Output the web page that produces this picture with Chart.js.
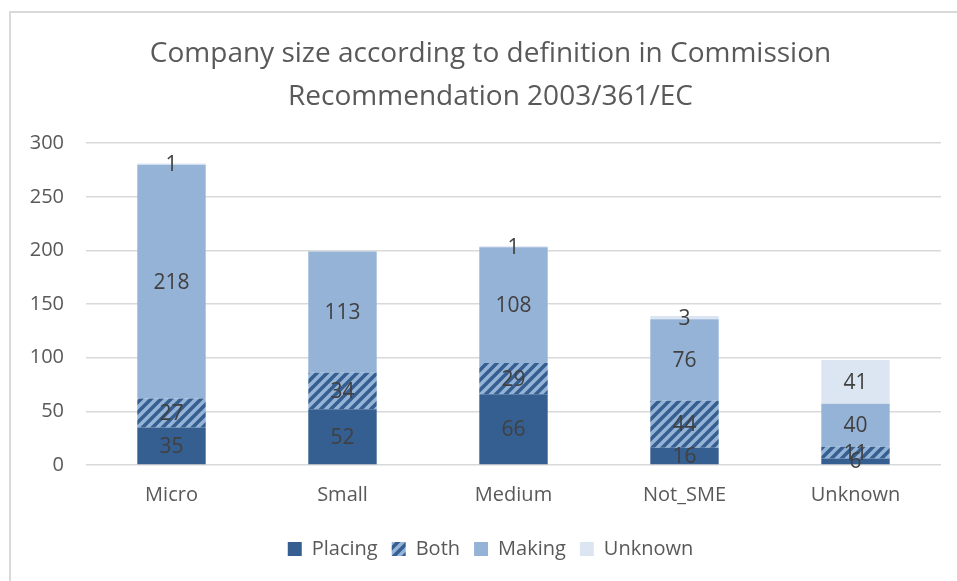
<!DOCTYPE html>
<html>
<head>
<meta charset="utf-8">
<script src="https://cdn.jsdelivr.net/npm/chart.js@4.4.1/dist/chart.umd.min.js"></script>
<style>
  body { margin: 0; background: #fff; }
  #wrap { width: 957px; height: 581px; position: relative; }
</style>
</head>
<body>
<div id="wrap"><canvas id="chart" width="957" height="581"></canvas></div>
<script>
// values
var categories = ["Micro", "Small", "Medium", "Not_SME", "Unknown"]
var placing = [35, 52, 66, 16, 6]
var both = [27, 34, 29, 44, 11]
var making = [218, 113, 108, 76, 40]
var unknown = [1, 0, 1, 3, 41]
var yTicks = [0, 50, 100, 150, 200, 250, 300]

var FONT = "'Open Sans'"
var dark = "#355f91"
var mid = "#95b3d7"
var light = "#dce6f2"

function MakeHatch(){
    var c = document.createElement("canvas")
    c.width = 10
    c.height = 10
    var g = c.getContext("2d")
    g.fillStyle = mid
    g.fillRect(0, 0, 10, 10)
    g.strokeStyle = dark
    g.lineWidth = 3.5
    g.beginPath()
    g.moveTo(-2, 12); g.lineTo(12, -2)
    g.moveTo(-7, 7); g.lineTo(7, -7)
    g.moveTo(3, 17); g.lineTo(17, 3)
    g.stroke()
    return g.createPattern(c, "repeat")
}
var hatch = MakeHatch()

// value labels in the middle of every segment
var valueLabels = {
    id: "valueLabels",
    afterDatasetsDraw: function(chart){
        var ctx = chart.ctx
        ctx.save()
        ctx.font = "21px " + FONT
        ctx.fillStyle = "#404040"
        ctx.textAlign = "center"
        ctx.textBaseline = "middle"
        chart.data.datasets.forEach(function(ds, i){
            var meta = chart.getDatasetMeta(i)
            meta.data.forEach(function(bar, j){
                var v = ds.data[j]
                if(!v) return
                ctx.fillText(String(v), bar.x, (bar.y + bar.base) / 2 + 1)
            })
        })
        ctx.restore()
    }
}

// the light frame round the chart, and title + legend centred on that frame
var frame = {
    id: "frame",
    afterLayout: function(chart){
        var shift = 20
        if(chart.titleBlock){ chart.titleBlock.left += shift; chart.titleBlock.right += shift }
        if(chart.legend){ chart.legend.left += shift; chart.legend.right += shift }
    },
    beforeDraw: function(chart){
        var ctx = chart.ctx
        ctx.save()
        ctx.strokeStyle = "#d9d9d9"
        ctx.lineWidth = 2
        ctx.beginPath()
        ctx.moveTo(10, 600); ctx.lineTo(10, 12); ctx.lineTo(960, 12)
        ctx.stroke()
        ctx.restore()
    }
}

var ctx = document.getElementById("chart")

var chart = new Chart(ctx, {
    type: "bar",
    data: {
        labels: categories,
        datasets: [
            { label: "Placing", data: placing, backgroundColor: dark },
            { label: "Both", data: both, backgroundColor: hatch },
            { label: "Making", data: making, backgroundColor: mid },
            { label: "Unknown", data: unknown, backgroundColor: light }
        ]
    },
    options: {
        responsive: false,
        animation: false,
        layout: { padding: { left: 0, right: 16, top: 0, bottom: 12 } },
        datasets: {
            bar: { barPercentage: 0.4, categoryPercentage: 1.0, borderWidth: 0 }
        },
        plugins: {
            title: {
                display: true,
                text: ["Company size according to definition in Commission", "Recommendation 2003/361/EC"],
                color: "#595959",
                font: { family: FONT, size: 28, weight: "normal", lineHeight: 1.54 },
                padding: { top: 32, bottom: 25 }
            },
            legend: {
                position: "bottom",
                labels: {
                    color: "#595959",
                    font: { family: FONT, size: 20 },
                    boxWidth: 14,
                    boxHeight: 14,
                    padding: 14
                }
            },
            tooltip: { enabled: false }
        },
        scales: {
            x: {
                stacked: true,
                grid: { display: false, drawTicks: false },
                border: { display: false },
                ticks: { color: "#595959", font: { family: FONT, size: 20 }, padding: 18 }
            },
            y: {
                stacked: true,
                min: 0,
                max: 300,
                afterBuildTicks: function(scale){
                    scale.ticks = yTicks.map(function(v){ return { value: v } })
                },
                afterFit: function(scale){ scale.width = 86 },
                grid: { color: "#d9d9d9", lineWidth: 1.5, drawTicks: false },
                border: { display: false },
                ticks: { color: "#595959", font: { family: FONT, size: 20 }, padding: 22 }
            }
        }
    },
    plugins: [frame, valueLabels]
})
</script>
</body>
</html>
